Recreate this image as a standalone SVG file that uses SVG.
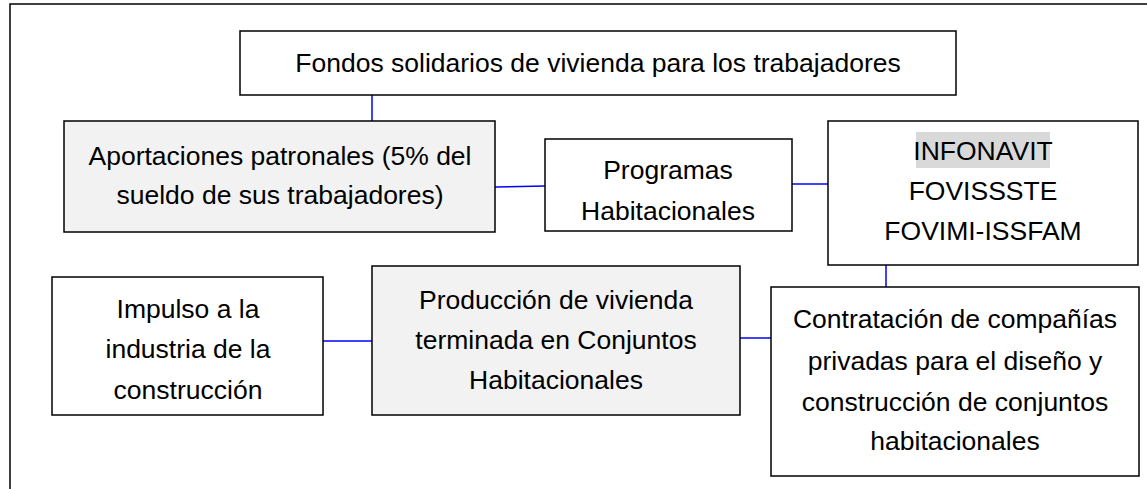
<svg xmlns="http://www.w3.org/2000/svg" width="1147" height="489" viewBox="0 0 1147 489">
<style>
.box{fill:#ffffff;stroke:#000000;stroke-width:1.5}
.grey{fill:#f2f2f2}
.conn{stroke:#0000ff;stroke-width:1.5;fill:none}
text{font-family:"Liberation Sans",Arial,sans-serif;font-size:26.5px;fill:#000000;text-anchor:middle}
</style>
<rect x="0" y="0" width="1147" height="489" fill="#ffffff"/>
<rect x="10" y="4" width="1150" height="500" fill="none" stroke="#000000" stroke-width="1.5"/>
<g id="connectors">
<line class="conn" x1="372" y1="95" x2="372" y2="121"/>
<line class="conn" x1="495" y1="187" x2="545" y2="186"/>
<line class="conn" x1="792" y1="184" x2="828" y2="184"/>
<line class="conn" x1="886" y1="265" x2="886" y2="287"/>
<line class="conn" x1="740" y1="338" x2="771" y2="338"/>
<line class="conn" x1="323" y1="341" x2="372" y2="341"/>
</g>
<g id="fondos">
<rect class="box" x="240" y="31" width="716" height="64"/>
<text x="598" y="72">Fondos solidarios de vivienda para los trabajadores</text>
</g>
<g id="aportaciones">
<rect class="box grey" x="64" y="121" width="431" height="111"/>
<text x="280" y="165">Aportaciones patronales (5% del</text>
<text x="280" y="204">sueldo de sus trabajadores)</text>
</g>
<g id="programas">
<rect class="box" x="545" y="139" width="247" height="92"/>
<text x="668" y="179">Programas</text>
<text x="668" y="220">Habitacionales</text>
</g>
<g id="infonavit">
<rect class="box" x="828" y="121" width="310" height="144"/>
<rect x="916" y="132" width="134" height="36" fill="#d9d9d9"/>
<text x="983" y="160">INFONAVIT</text>
<text x="983" y="200">FOVISSSTE</text>
<text x="983" y="240">FOVIMI-ISSFAM</text>
</g>
<g id="impulso">
<rect class="box" x="52" y="277" width="271" height="138"/>
<text x="188" y="318">Impulso a la</text>
<text x="188" y="358">industria de la</text>
<text x="188" y="399">construcción</text>
</g>
<g id="produccion">
<rect class="box grey" x="372" y="266" width="368" height="149"/>
<text x="556" y="309">Producción de vivienda</text>
<text x="556" y="349">terminada en Conjuntos</text>
<text x="556" y="389">Habitacionales</text>
</g>
<g id="contratacion">
<rect class="box" x="771" y="287" width="368" height="189"/>
<text x="955" y="328">Contratación de compañías</text>
<text x="955" y="370">privadas para el diseño y</text>
<text x="955" y="411">construcción de conjuntos</text>
<text x="955" y="450">habitacionales</text>
</g>
</svg>
